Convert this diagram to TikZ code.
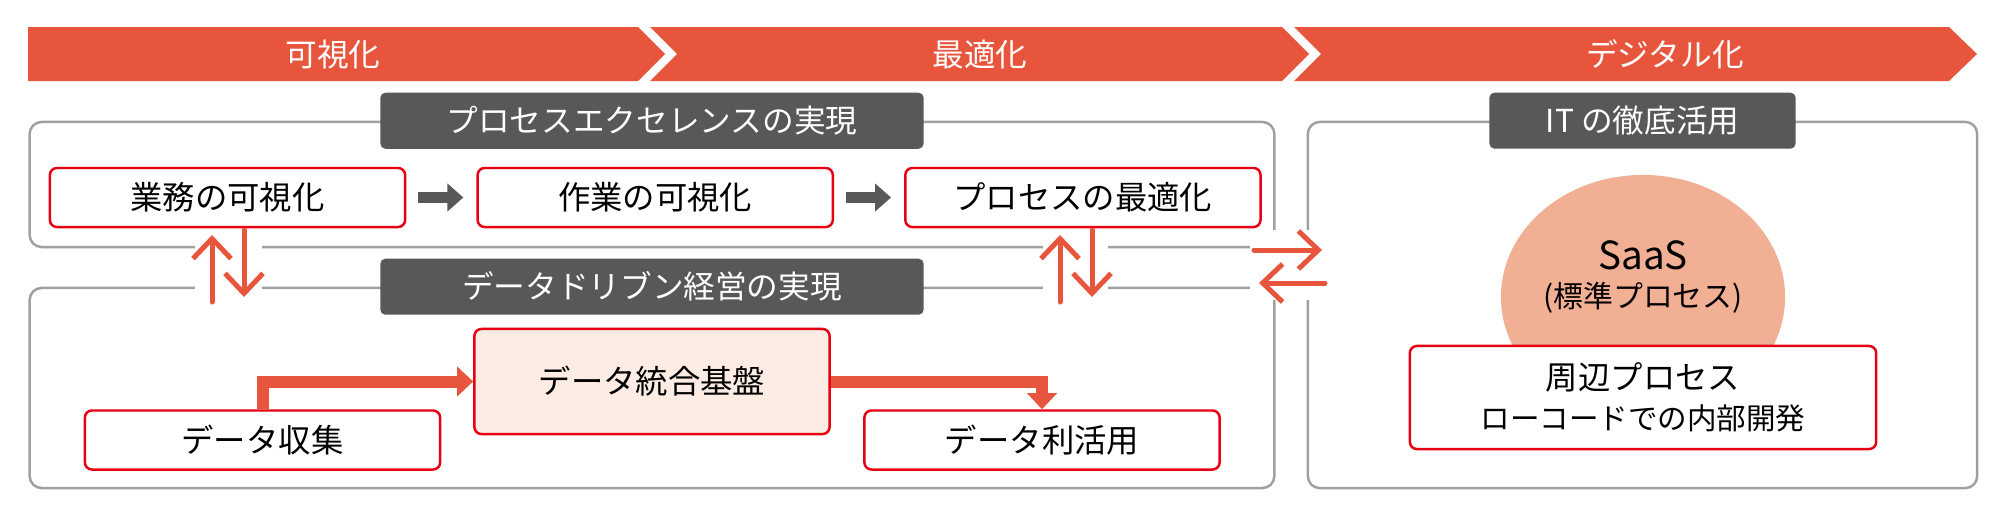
\documentclass[tikz,border=0pt]{standalone}
\usepackage{fontspec}
\setmainfont{Noto Sans CJK JP}
\usetikzlibrary{shapes.geometric, arrows.meta, positioning, calc}

\definecolor{accent}{RGB}{232,85,61}
\definecolor{boxred}{RGB}{230,0,18}
\definecolor{panelgray}{RGB}{160,160,160}
\definecolor{taggray}{RGB}{89,87,87}
\definecolor{basepink}{RGB}{253,236,228}
\definecolor{saasfill}{RGB}{241,175,148}

\begin{document}
\begin{tikzpicture}[
    x=0.01cm, y=-0.01cm,
    panel/.style={rectangle, draw=panelgray, line width=0.7pt, rounded corners=0.12cm},
    tag/.style={rectangle, fill=taggray, text=white, rounded corners=0.05cm, minimum height=0.56cm, font=\fontsize{9}{11}\selectfont},
    stepbox/.style={rectangle, draw=boxred, line width=0.7pt, fill=white, rounded corners=0.07cm, minimum width=3.55cm, minimum height=0.59cm, font=\fontsize{9.2}{11}\selectfont},
    phase/.style={text=white, font=\fontsize{9}{11}\selectfont},
    flow/.style={-{Triangle[length=0.16cm, width=0.29cm]}, draw=accent, line width=0.12cm},
    next/.style={-{Triangle[length=0.16cm, width=0.27cm]}, draw=taggray, line width=0.1cm, shorten <=0.12cm, shorten >=0.13cm},
    link/.style={-{Straight Barb[length=0.2cm, width=0.38cm]}, draw=accent, line width=0.05cm, line cap=round, line join=round}
]
    \useasboundingbox (0,0) rectangle (2006,521);

    % Phases
    \fill[accent] (28,27) -- (638,27) -- (665,54) -- (638,81) -- (28,81) -- cycle;
    \fill[accent] (650,27) -- (1282,27) -- (1309,54) -- (1282,81) -- (650,81) -- (677,54) -- cycle;
    \fill[accent] (1294,27) -- (1949,27) -- (1977,54) -- (1949,81) -- (1294,81) -- (1321,54) -- cycle;
    \node[phase] (visual) at (333,54) {可視化};
    \node[phase] (optimal) at (980,54) {最適化};
    \node[phase] (digital) at (1665,54) {デジタル化};

    % Panels
    \node[panel, minimum width=12.44cm, minimum height=1.25cm] (process) at (652,184.5) {};
    \node[panel, minimum width=12.44cm, minimum height=2cm] (data) at (652,388) {};
    \node[panel, minimum width=6.69cm, minimum height=3.66cm] (it) at (1642.5,305) {};

    % Gaps for the arrows
    \fill[white] (195,236) rectangle (262,298);
    \fill[white] (1043,236) rectangle (1108,298);
    \fill[white] (1250,230) rectangle (1332,300);

    % Tags
    \node[tag, minimum width=5.43cm] (excel) at (process.north) {プロセスエクセレンスの実現};
    \node[tag, minimum width=5.43cm] (driven) at (data.north) {データドリブン経営の実現};
    \node[tag, minimum width=3.06cm] (itfull) at (it.north) {IT の徹底活用};

    % Process steps
    \node[stepbox] (bizvis) at (227.5,197.5) {業務の可視化};
    \node[stepbox, right=0.7cm of bizvis] (workvis) {作業の可視化};
    \node[stepbox, right=0.7cm of workvis] (procopt) {プロセスの最適化};

    % Data steps
    \node[stepbox] (collect) at (262.5,440) {データ収集};
    \node[stepbox, fill=basepink, minimum height=1.05cm] (base) at (652,381.5) {データ統合基盤};
    \node[stepbox] (use) at (1042,440) {データ利活用};

    % IT
    \node[ellipse, fill=saasfill, minimum width=2.84cm, minimum height=2.44cm] (saas) at (1643,297) {};
    \node[align=center, font=\fontsize{11}{11}\selectfont] (saastext) at (1643,277) {SaaS\\{\fontsize{8.5}{11}\selectfont (標準プロセス)}};
    \node[stepbox, minimum width=4.66cm, minimum height=1.03cm, align=center, font=\fontsize{9.2}{11.3}\selectfont] (around) at (1643,397.5) {周辺プロセス\\{\fontsize{8.4}{11.3}\selectfont ローコードでの内部開発}};

    % Flows
    \draw[next] (bizvis) -- (workvis);
    \draw[next] (workvis) -- (procopt);
    \draw[flow] (collect.north) |- (base.west);
    \draw[flow] (base.east) -| (use.north);

    % Links
    \coordinate (upa) at (212,302);
    \coordinate (upb) at (212,235);
    \coordinate (downa) at (244,230);
    \coordinate (downb) at (244,297);
    \coordinate (upc) at (1060,302);
    \coordinate (upd) at (1060,235);
    \coordinate (downc) at (1092,230);
    \coordinate (downd) at (1092,297);
    \coordinate (toit) at (1254,250);
    \coordinate (atit) at (1322,250);
    \coordinate (fromit) at (1325,283);
    \coordinate (atproc) at (1259,283);
    \draw[link] (upa) -- (upb);
    \draw[link] (downa) -- (downb);
    \draw[link] (upc) -- (upd);
    \draw[link] (downc) -- (downd);
    \draw[link] (toit) -- (atit);
    \draw[link] (fromit) -- (atproc);
\end{tikzpicture}
\end{document}
